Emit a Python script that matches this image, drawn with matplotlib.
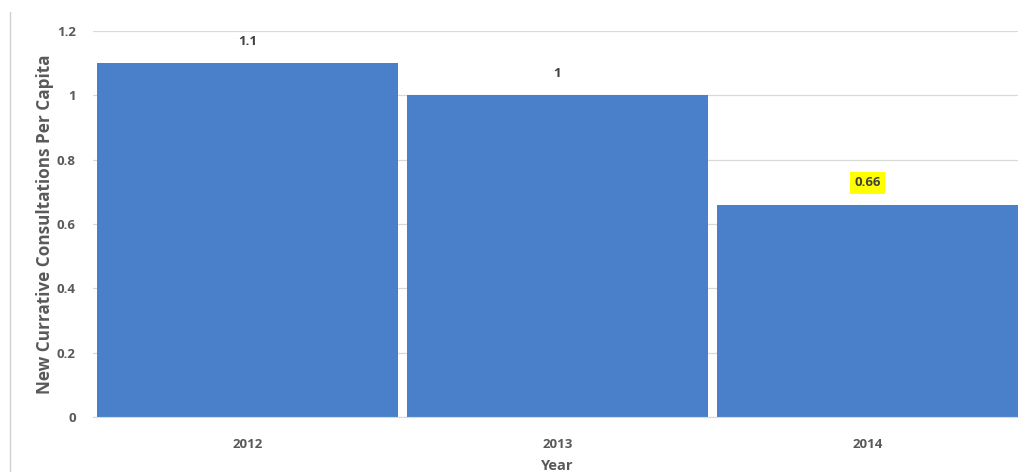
import matplotlib
matplotlib.use("Agg")
import matplotlib.pyplot as plt
from matplotlib.lines import Line2D

years = ["2012", "2013", "2014"]
consultations = [1.1, 1.0, 0.66]
value_labels = ["1.1", "1", "0.66"]

plt.rcParams['font.family'] = ['Open Sans', 'DejaVu Sans']
text_color = "#595959"

fig = plt.figure(figsize=(10.18, 4.72), dpi=100)
ax = fig.add_axes([92.5 / 1018, 55 / 472, 930 / 1018, 386 / 472])

x = range(len(years))
bars = ax.bar(x, consultations, width=0.97, color="#4A80C9", zorder=2)

for i, (bar, lab) in enumerate(zip(bars, value_labels)):
    kw = dict(ha="center", va="bottom", fontsize=9.5, fontweight="bold", color="#404040")
    if i == 2:
        kw["bbox"] = dict(boxstyle="square,pad=0.35", fc="#FFFF00", ec="none")
    ax.annotate(lab, (bar.get_x() + bar.get_width() / 2, bar.get_height()),
                xytext=(0, 11), textcoords="offset points", **kw)

ax.set_xlim(-0.5, 2.5)
ax.set_ylim(0, 1.2)
ax.set_yticks([0, 0.2, 0.4, 0.6, 0.8, 1, 1.2])
ax.set_yticklabels(["0", "0.2", "0.4", "0.6", "0.8", "1", "1.2"])
ax.set_xticks(list(x))
ax.set_xticklabels(years)
ax.tick_params(length=0, labelsize=9.5, labelcolor=text_color, pad=12)
ax.tick_params(axis="x", pad=15)
for t in ax.get_xticklabels() + ax.get_yticklabels():
    t.set_fontweight("bold")

ax.grid(axis="y", color="#D9D9D9", linewidth=0.9, zorder=0)
for s in ["top", "right", "left"]:
    ax.spines[s].set_visible(False)
ax.spines["bottom"].set_color("#D9D9D9")

ax.set_ylabel("New Currative Consultations Per Capita", fontsize=12.3, fontweight="bold",
              color=text_color, labelpad=2)
ax.set_xlabel("Year", fontsize=10.5, fontweight="bold", color=text_color, labelpad=6)

# thin border on the left side
fig.add_artist(Line2D([10 / 1018, 10 / 1018], [0, 1 - 12 / 472], transform=fig.transFigure,
                      color="#D0D0D0", linewidth=1))

fig.savefig("out.png", dpi=100)
